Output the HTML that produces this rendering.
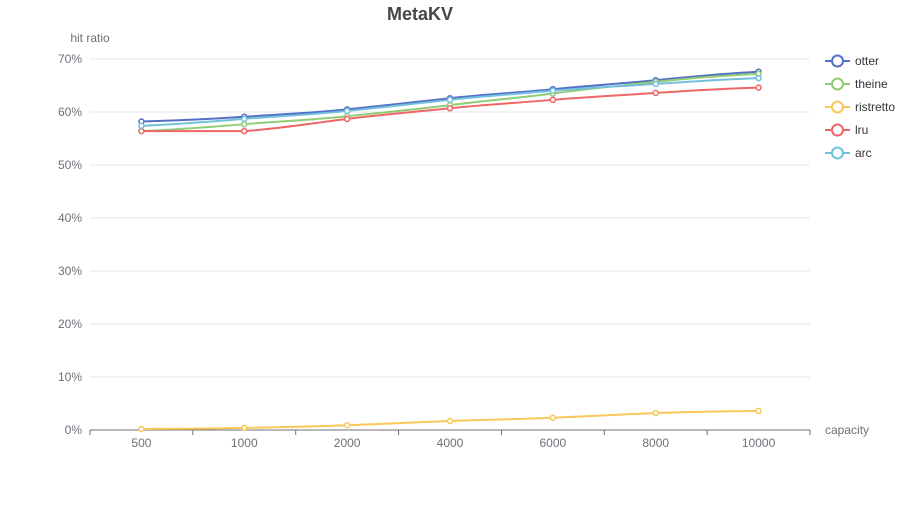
<!DOCTYPE html>
<html><head><meta charset="utf-8"><style>
body{margin:0;background:#fff;font-family:"Liberation Sans",sans-serif}
svg text{font-family:"Liberation Sans",sans-serif}
</style></head><body>
<svg id="chart" width="900" height="500" xmlns="http://www.w3.org/2000/svg">
<text x="420" y="20" text-anchor="middle" font-size="18" font-weight="bold" fill="#464646">MetaKV</text>
<text x="90" y="42" text-anchor="middle" font-size="12" fill="#6e7079">hit ratio</text>
<text x="825" y="434" font-size="12" fill="#6e7079">capacity</text>
<g id="grid"></g><g id="series"></g><g id="legend"></g>
</svg>
<script>
const categories=["500","1000","2000","4000","6000","8000","10000"];
const yTicks=[0,10,20,30,40,50,60,70];
const seriesNames=["otter","theine","ristretto","lru","arc"];
const otter=[58.2,59.1,60.5,62.6,64.3,66.0,67.6];
const theine=[56.4,57.7,59.2,61.3,63.5,65.7,67.2];
const ristretto=[0.2,0.4,0.9,1.7,2.3,3.2,3.6];
const lru=[56.4,56.4,58.7,60.7,62.3,63.6,64.6];
const arc=[57.4,58.7,60.2,62.3,64.0,65.3,66.4];
const colors=["#5470c6","#91cc75","#fac858","#ee6666","#73c0de"];
const values=[otter,theine,ristretto,lru,arc];
const NS="http://www.w3.org/2000/svg";
const L=90,R=810,T=59,B=430;
const bw=(R-L)/categories.length;
const xS=i=>L+bw*(i+0.5);
const yS=v=>B-(v/70)*(B-T);
function mk(tag,attrs,parent){const e=document.createElementNS(NS,tag);for(const k in attrs)e.setAttribute(k,attrs[k]);parent.appendChild(e);return e;}
const grid=document.getElementById('grid');
yTicks.forEach(t=>{
  const y=yS(t);
  if(t>0){const l=mk('line',{x1:L,x2:R,y1:y,y2:y,stroke:'#e0e6f1'},grid);
  
  }
  const tx=mk('text',{x:L-8,y:y+4,'text-anchor':'end','font-size':12,fill:'#6e7079'},grid);tx.textContent=t+'%';
  
  
});
const ax=mk('line',{x1:L,x2:R,y1:B,y2:B,stroke:'#6e7079'},grid);


for(let i=0;i<=categories.length;i++){const x=L+bw*i;mk('line',{x1:x,x2:x,y1:B,y2:B+5,stroke:'#6e7079'},grid);}
categories.forEach((c,i)=>{const t=mk('text',{x:xS(i),y:B+17,'text-anchor':'middle','font-size':12,fill:'#6e7079'},grid);t.textContent=c;
  
  });
const sg=document.getElementById('series');
values.forEach((vals,s)=>{
  const pts=vals.map((v,i)=>[xS(i),yS(v)]);
  let d='M'+pts[0][0]+','+pts[0][1];
  for(let i=0;i<pts.length-1;i++){
    const p0=pts[Math.max(i-1,0)],p1=pts[i],p2=pts[i+1],p3=pts[Math.min(i+2,pts.length-1)];
    let c1y=p1[1]+(p2[1]-p0[1])*0.2, c2y=p2[1]-(p3[1]-p1[1])*0.2;
    const lo=Math.min(p1[1],p2[1]),hi=Math.max(p1[1],p2[1]);
    c1y=Math.min(hi,Math.max(lo,c1y));c2y=Math.min(hi,Math.max(lo,c2y));
    d+=' C'+(p1[0]+bw*0.35)+','+c1y+' '+(p2[0]-bw*0.35)+','+c2y+' '+p2[0]+','+p2[1];
  }
  const p=mk('path',{d:d,fill:'none',stroke:colors[s],'stroke-width':2},sg);
  
  
  pts.forEach(q=>{const c=mk('circle',{cx:q[0],cy:q[1],r:2.5,fill:'#fff',stroke:colors[s],'stroke-width':1.5},sg);
    
    });
});
const lg=document.getElementById('legend');
seriesNames.forEach((n,i)=>{
  const y=61+i*23;
  const g=mk('g',{},lg);
  
  
  mk('line',{x1:825,x2:850,y1:y,y2:y,stroke:colors[i],'stroke-width':2},g);
  mk('circle',{cx:837.5,cy:y,r:5.5,fill:'#fff',stroke:colors[i],'stroke-width':2},g);
  const t=mk('text',{x:855,y:y+4,'font-size':12,fill:'#333'},g);t.textContent=n;
});
</script>
</body></html>
